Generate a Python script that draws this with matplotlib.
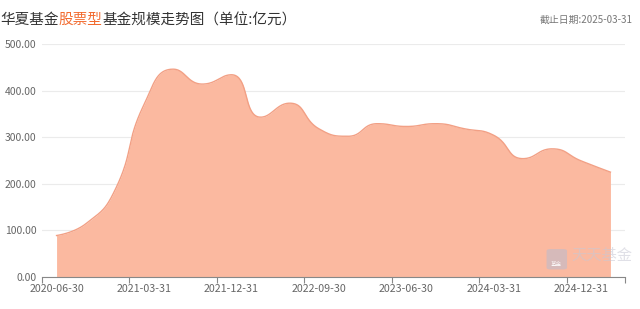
import numpy as np
import matplotlib
matplotlib.use("Agg")
import matplotlib.pyplot as plt
from matplotlib.patches import FancyBboxPatch

plt.rcParams['font.family'] = ['Noto Sans CJK SC', 'DejaVu Sans']

dates = ["2020-06-30", "2020-09-30", "2020-12-31", "2021-03-31", "2021-06-30",
         "2021-09-30", "2021-12-31", "2022-03-31", "2022-06-30", "2022-09-30",
         "2022-12-31", "2023-03-31", "2023-06-30", "2023-09-30", "2023-12-31",
         "2024-03-31", "2024-06-30", "2024-09-30", "2024-12-31", "2025-03-31"]
scale = [89, 114, 186, 370, 446, 414, 434, 343, 373, 318,
         302, 329, 323, 329, 318, 304, 254, 275, 249, 225]
yticks = [0, 100, 200, 300, 400, 500]

title_parts = [("华夏基金", "#333333"), ("股票型", "#F26A2E"), ("基金规模走势图（单位:亿元）", "#333333")]
date_note = "截止日期:2025-03-31"


def clamp(v, a, b):
    return min(max(v, min(a, b)), max(a, b))


def echarts_smooth(xs, ys, sxp, syp, smooth=0.5, n=40):
    """Bezier smoothing as done by ECharts line series (control points in pixel space, clamped)."""
    X = np.asarray(xs, float) * sxp
    Y = np.asarray(ys, float) * syp
    N = len(X)
    cp_out = [None] * N
    cp_in = [None] * N
    cp_out[0] = (X[0], Y[0])
    cp_in[-1] = (X[-1], Y[-1])
    for i in range(1, N - 1):
        x, y = X[i], Y[i]
        px_, py_ = X[i - 1], Y[i - 1]
        nx_, ny_ = X[i + 1], Y[i + 1]
        vx, vy = nx_ - px_, ny_ - py_
        lp = np.hypot(x - px_, y - py_)
        ln = np.hypot(nx_ - x, ny_ - y)
        r = ln / (ln + lp)
        ncx = clamp(x + vx * smooth * r, nx_, x)
        ncy = clamp(y + vy * smooth * r, ny_, y)
        vx, vy = ncx - x, ncy - y
        c1x = clamp(x - vx * lp / ln, px_, x)
        c1y = clamp(y - vy * lp / ln, py_, y)
        vx, vy = x - c1x, y - c1y
        ncx = x + vx * ln / lp
        ncy = y + vy * ln / lp
        cp_in[i] = (c1x, c1y)
        cp_out[i] = (ncx, ncy)
    t = np.linspace(0, 1, n)
    bx, by = [], []
    for i in range(N - 1):
        p0 = (X[i], Y[i]); c1 = cp_out[i]; c2 = cp_in[i + 1]; p1 = (X[i + 1], Y[i + 1])
        u = 1 - t
        xx = u ** 3 * p0[0] + 3 * u ** 2 * t * c1[0] + 3 * u * t ** 2 * c2[0] + t ** 3 * p1[0]
        yy = u ** 3 * p0[1] + 3 * u ** 2 * t * c1[1] + 3 * u * t ** 2 * c2[1] + t ** 3 * p1[1]
        if i > 0:
            xx, yy = xx[1:], yy[1:]
        bx.extend(xx); by.extend(yy)
    return np.array(bx) / sxp, np.array(by) / syp


fig = plt.figure(figsize=(6.4, 3.09), dpi=100)
ax = fig.add_axes([0.0656, 0.1036, 0.911, 0.754])

x = np.arange(len(dates))
px_per_x = 583.0 / len(dates)
px_per_y = 233.0 / 500.0
sx, sy = echarts_smooth(x, scale, px_per_x, px_per_y)
ax.fill_between(sx, 0, sy, color="#FBB9A0", lw=0, zorder=2)
ax.plot(sx, sy, color="#F2A085", lw=1.0, zorder=3)

ax.set_xlim(-0.5, len(dates) - 0.5)
ax.set_ylim(0, 500)
ax.set_yticks(yticks)
ax.set_yticklabels([f"{v:.2f}" for v in yticks])
ax.grid(axis='y', color="#EBEBEB", lw=0.8, zorder=0)
ax.tick_params(axis='y', length=0, labelsize=7.5, labelcolor="#666666", pad=4)

lab_idx = list(range(0, len(dates), 3))
ax.set_xticks(lab_idx)
ax.set_xticklabels([dates[i] for i in lab_idx])
ax.tick_params(axis='x', length=0, labelsize=7.7, labelcolor="#666666", pad=5)
ax.set_xticks([i - 0.5 for i in lab_idx] + [len(dates) - 0.5], minor=True)
ax.tick_params(axis='x', which='minor', length=4, color="#888888", width=0.8)

for s in ["top", "right", "left"]:
    ax.spines[s].set_visible(False)
ax.spines["bottom"].set_color("#888888")
ax.spines["bottom"].set_linewidth(0.8)
ax.spines["bottom"].set_zorder(4)

# title with coloured segment
t = fig.text(0.0, 0.935, title_parts[0][0], color=title_parts[0][1], fontsize=10.5, va='center', ha='left')
for txt, col in title_parts[1:]:
    t = ax.annotate(txt, xy=(1, 0.5), xycoords=t, va='center', ha='left',
                    color=col, fontsize=10.5, annotation_clip=False)

fig.text(0.988, 0.935, date_note, color="#777777", fontsize=7.1, va='center', ha='right')

# faint watermark
fig.patches.append(FancyBboxPatch((0.856, 0.13), 0.028, 0.062, boxstyle="round,pad=0.002,rounding_size=0.006",
                                  transform=fig.transFigure, facecolor="#B8BCD0", edgecolor="none",
                                  alpha=0.55, zorder=5))
fig.text(0.87, 0.145, "基金", color="white", fontsize=4, ha='center', va='center', alpha=0.9, zorder=6)
fig.text(0.988, 0.175, "天天基金", color="#C8C8D4", alpha=0.55, fontsize=11, ha='right', va='center', zorder=6)

fig.savefig("out.png", dpi=100)
